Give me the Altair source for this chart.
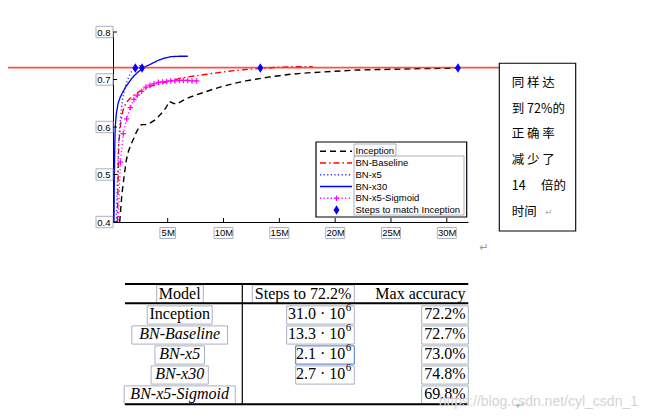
import altair as alt
import pandas as pd

# ---------------- data (steps in millions, accuracy) ----------------
series_names = ["Inception", "BN-Baseline", "BN-x5", "BN-x30", "BN-x5-Sigmoid"]
series_colors = ["#000000", "#ff0000", "#3030ff", "#0000ff", "#ff00ff"]

inception_steps = [0.70, 0.80, 0.90, 1.10, 1.29, 1.50, 1.74, 2.00, 2.19, 2.40, 2.64, 3.00, 3.40,
                   3.80, 4.13, 4.50, 4.80, 5.15, 5.50, 5.80, 6.30, 7.00, 8.00, 9.00, 10.0, 11.0,
                   12.0, 13.0, 14.0, 15.0, 16.0, 17.5, 19.0, 20.5, 22.0, 24.0, 26.0, 28.0, 31.0]
inception_acc = [0.400, 0.430, 0.459, 0.497, 0.530, 0.550, 0.565, 0.578, 0.589, 0.598, 0.605, 0.605,
                 0.608, 0.614, 0.621, 0.630, 0.639, 0.654, 0.650, 0.648, 0.655, 0.663, 0.671, 0.679,
                 0.686, 0.692, 0.697, 0.701, 0.705, 0.708, 0.711, 0.714, 0.716, 0.718, 0.720, 0.721,
                 0.722, 0.723, 0.724]

baseline_steps = [0.50, 0.55, 0.61, 0.70, 0.79, 0.99, 1.29, 1.74, 2.20, 2.80, 3.50, 4.30, 5.20,
                  6.00, 7.00, 8.50, 10.3, 12.0, 13.3, 15.0, 16.5, 18.0]
baseline_acc = [0.400, 0.480, 0.565, 0.586, 0.607, 0.635, 0.652, 0.663, 0.671, 0.679, 0.686, 0.691,
                0.697, 0.702, 0.706, 0.711, 0.717, 0.721, 0.723, 0.726, 0.727, 0.727]

x5_steps = [0.40, 0.48, 0.55, 0.62, 0.70, 0.85, 0.99, 1.15, 1.29, 1.50, 1.74, 2.04, 2.30, 2.60]
x5_acc = [0.400, 0.470, 0.530, 0.570, 0.600, 0.637, 0.663, 0.680, 0.691, 0.705, 0.716, 0.723,
          0.727, 0.730]

x30_steps = [0.19, 0.22, 0.26, 0.30, 0.40, 0.55, 0.75, 0.99, 1.20, 1.44, 1.74, 2.04, 2.35, 2.63,
             3.00, 3.53, 4.13, 4.70, 5.30, 6.00, 6.80]
x30_acc = [0.400, 0.500, 0.560, 0.600, 0.628, 0.649, 0.663, 0.674, 0.683, 0.691, 0.701, 0.709,
           0.716, 0.721, 0.727, 0.733, 0.740, 0.745, 0.748, 0.749, 0.749]

sigmoid_steps = [0.50, 0.76, 1.02, 1.32, 1.65, 1.98, 2.28, 2.67, 3.05, 3.41, 3.77, 4.16, 4.55,
                 4.91, 5.27, 5.65, 6.04, 6.40, 6.79, 7.18, 7.60]
sigmoid_acc = [0.350, 0.526, 0.586, 0.617, 0.641, 0.658, 0.667, 0.675, 0.684, 0.688, 0.691, 0.694,
               0.695, 0.696, 0.697, 0.697, 0.698, 0.698, 0.698, 0.697, 0.697]

match_steps = [2.1, 2.7, 13.3, 31.0]
match_acc = [0.724, 0.724, 0.724, 0.724]
target_acc = [0.725]

x_ticks = [5, 10, 15, 20, 25, 30]
y_ticks = [0.4, 0.5, 0.6, 0.7, 0.8]

legend_labels = series_names + ["Steps to match Inception"]

table_header = ["Model", "Steps to 72.2%", "Max accuracy"]
table_models = ["Inception", "BN-Baseline", "BN-x5", "BN-x30", "BN-x5-Sigmoid"]
table_steps = ["31.0", "13.3", "2.1", "2.7", ""]
table_max = ["72.2%", "72.7%", "73.0%", "74.8%", "69.8%"]

note_lines = ["同  样  达", "到 72%的", "正  确  率", "减  少  了", "14　 倍的", "时间"]
watermark = "https://blog.csdn.net/cyl_csdn_1"

# ---------------- frames ----------------
def frame(name, xs, ys):
    return pd.DataFrame({"series": name, "steps": xs, "acc": ys})

curves = pd.concat([
    frame("Inception", inception_steps, inception_acc),
    frame("BN-Baseline", baseline_steps, baseline_acc),
    frame("BN-x5", x5_steps, x5_acc),
    frame("BN-x30", x30_steps, x30_acc),
    frame("BN-x5-Sigmoid", sigmoid_steps, sigmoid_acc),
], ignore_index=True)
sig_df = frame("BN-x5-Sigmoid", sigmoid_steps, sigmoid_acc)
match_df = pd.DataFrame({"steps": match_steps, "acc": match_acc})
target_df = pd.DataFrame({"acc": target_acc})
xt_df = pd.DataFrame({"v": x_ticks})
yt_df = pd.DataFrame({"v": y_ticks})
legend_df = pd.DataFrame({"row": list(range(len(legend_labels))), "label": legend_labels,
                          "series": legend_labels})
table_df = pd.DataFrame({"row": list(range(len(table_models))), "model": table_models,
                         "mant": table_steps, "maxacc": table_max})
note_df = pd.DataFrame({"row": list(range(len(note_lines))), "line": note_lines})
one = pd.DataFrame({"k": [0]})

W, H = 355, 190
FONT = "Liberation Sans"
SERIF = "Liberation Serif"
BOXC = "#a9b1c3"

xsc = alt.Scale(domain=[0.1, 31.9], nice=False, zero=False)
ysc = alt.Scale(domain=[0.4, 0.8], nice=False, zero=False)
AX = alt.Axis(values=x_ticks, labelExpr="datum.value + 'M'", title=None, grid=False, ticks=False,
              tickSize=0, domainColor="black", domainWidth=1, labelFont=FONT, labelFontSize=9.5,
              labelColor="black", labelPadding=5, labelFlush=False)
AY = alt.Axis(values=y_ticks, format=".1f", title=None, grid=False, ticks=False, tickSize=0,
              domainColor="black", domainWidth=1, labelFont=FONT, labelFontSize=9.5,
              labelColor="black", labelPadding=3, labelFlush=False)

color_scale = alt.Scale(domain=series_names, range=series_colors)
dash_scale = alt.Scale(domain=series_names,
                       range=[[6, 4], [6, 3, 1.5, 3], [1.2, 2.4], [1, 0], [1.2, 2.4]])
width_scale = alt.Scale(domain=series_names, range=[1.4, 1.3, 1.2, 1.6, 1.2])

col = alt.Color("series:N", scale=color_scale, legend=None)
dash = alt.StrokeDash("series:N", scale=dash_scale, legend=None)
sw = alt.StrokeWidth("series:N", scale=width_scale, legend=None)

PLUS = "M-1,0L1,0M0,-1L0,1"
DIAMOND = "M0,-1L0.62,0L0,1L-0.62,0Z"


def box(x1, x2, y1, y2, stroke=BOXC, sw_=1, fo=0):
    return alt.Chart(one).mark_rect(stroke=stroke, strokeWidth=sw_, fill="#ffffff",
                                    fillOpacity=fo).encode(
        x=alt.value(x1), x2=alt.value(x2), y=alt.value(y1), y2=alt.value(y2))


def hline(x1, x2, y, width, color="black"):
    return alt.Chart(one).mark_rule(color=color, strokeWidth=width).encode(
        x=alt.value(x1), x2=alt.value(x2), y=alt.value(y))


# ---------------- main plot ----------------
lines = alt.Chart(curves).mark_line(clip=True).encode(
    x=alt.X("steps:Q", scale=xsc, axis=AX),
    y=alt.Y("acc:Q", scale=ysc, axis=AY),
    color=col, strokeDash=dash, strokeWidth=sw,
)

sig_marks = alt.Chart(sig_df).mark_point(shape=PLUS, filled=False, size=30, strokeWidth=1.2,
                                         color="#ff00ff", opacity=1, clip=True).encode(
    x=alt.X("steps:Q", scale=xsc, axis=AX), y=alt.Y("acc:Q", scale=ysc, axis=AY))

target = alt.Chart(target_df).mark_rule(color="#ff2020", strokeWidth=1.8, opacity=0.8).encode(
    y=alt.Y("acc:Q", scale=ysc, axis=AY), x=alt.value(-105), x2=alt.value(386))

diamonds = alt.Chart(match_df).mark_point(shape=DIAMOND, filled=True, size=90, color="#0000ff",
                                          opacity=1).encode(
    x=alt.X("steps:Q", scale=xsc, axis=AX), y=alt.Y("acc:Q", scale=ysc, axis=AY))

xticks = alt.Chart(xt_df).mark_rule(color="black").encode(
    x=alt.X("v:Q", scale=xsc, axis=AX), y=alt.value(H), y2=alt.value(H - 4))
yticks = alt.Chart(yt_df).mark_rule(color="black").encode(
    y=alt.Y("v:Q", scale=ysc, axis=AY), x=alt.value(0), x2=alt.value(4))

xbox_small = alt.Chart(xt_df).transform_filter("datum.v < 10").mark_rect(
    stroke=BOXC, strokeWidth=1, fillOpacity=0, fill="#ffffff", xOffset=-7.8, x2Offset=7.8).encode(
    x=alt.X("v:Q", scale=xsc, axis=AX), x2="v:Q", y=alt.value(H + 5.5), y2=alt.value(H + 16.5))
xbox_big = alt.Chart(xt_df).transform_filter("datum.v >= 10").mark_rect(
    stroke=BOXC, strokeWidth=1, fillOpacity=0, fill="#ffffff", xOffset=-9.5, x2Offset=9.5).encode(
    x=alt.X("v:Q", scale=xsc, axis=AX), x2="v:Q", y=alt.value(H + 5.5), y2=alt.value(H + 16.5))
ybox = alt.Chart(yt_df).mark_rect(
    stroke=BOXC, strokeWidth=1, fillOpacity=0, fill="#ffffff", yOffset=-5.7, y2Offset=5.7).encode(
    y=alt.Y("v:Q", scale=ysc, axis=AY), y2="v:Q", x=alt.value(-17), x2=alt.value(0))

main = alt.layer(xbox_small, xbox_big, ybox, lines, sig_marks, target, diamonds, xticks, yticks)

# ---------------- legend ----------------
ly = alt.Y("row:Q", scale=alt.Scale(domain=[0, 5], range=[119.3, 178.0]), axis=None)
leg_frame = box(203, 353.7, 110, 185, stroke="black", sw_=1.2, fo=1)
leg_boxes = alt.layer(box(241, 283, 112, 124), box(241, 351, 124, 183))
leg_lines = alt.Chart(legend_df).transform_filter("datum.row < 5").mark_rule().encode(
    x=alt.value(207), x2=alt.value(239), y=ly, color=col, strokeDash=dash, strokeWidth=sw)
leg_plus = alt.Chart(legend_df).transform_filter("datum.row == 4").mark_point(
    shape=PLUS, filled=False, size=30, strokeWidth=1.2, color="#ff00ff", opacity=1).encode(
    x=alt.value(223.5), y=ly)
leg_diam = alt.Chart(legend_df).transform_filter("datum.row == 5").mark_point(
    shape=DIAMOND, filled=True, size=90, color="#0000ff", opacity=1).encode(
    x=alt.value(223.5), y=ly)
leg_text = alt.Chart(legend_df).mark_text(align="left", baseline="middle", font=FONT,
                                          fontSize=9.5, color="black").encode(
    x=alt.value(242.5), y=ly, text="label:N")
legend = alt.layer(leg_frame, leg_boxes, leg_lines, leg_plus, leg_diam, leg_text)

# ---------------- side note box ----------------
ny = alt.Y("row:Q", scale=alt.Scale(domain=[0, 5], range=[50.7, 179.7]), axis=None)
note_frame = box(386.3, 462.7, 31.3, 199, stroke="black", sw_=1.1, fo=1)
note_text = alt.Chart(note_df).mark_text(align="left", baseline="middle",
                                         font="Noto Sans CJK SC", fontSize=12.5,
                                         color="black").encode(
    x=alt.value(398.7), y=ny, text="line:N")
note_ret = alt.Chart(one).mark_text(text="↵", font="DejaVu Sans", fontSize=9, color="#aaaaaa",
                                    align="left", baseline="middle").encode(
    x=alt.value(432), y=alt.value(180))
note = alt.layer(note_frame, note_text, note_ret)

# ---------------- table ----------------
ty = alt.Y("row:Q", scale=alt.Scale(domain=[0, 4], range=[281.5, 361.5]), axis=None)
ty2 = alt.Y2("row:Q")
tstyle = dict(baseline="middle", font=SERIF, fontSize=16, color="black")
t_lines = alt.layer(
    hline(12, 355.3, 252, 2.2),
    hline(12, 355.3, 271.3, 2.0),
    hline(12, 355.3, 372.3, 2.0),
    alt.Chart(one).mark_rule(color="black", strokeWidth=1.2).encode(
        x=alt.value(129.3), y=alt.value(252), y2=alt.value(372.3)),
)
t_head_boxes = alt.layer(box(43.7, 90.3, 253, 271.3), box(139.3, 241.3, 253, 271.3))
t_head = alt.layer(
    alt.Chart(one).mark_text(text=table_header[0], align="center", **tstyle).encode(
        x=alt.value(66.7), y=alt.value(261.5)),
    alt.Chart(one).mark_text(text=table_header[1], align="center", **tstyle).encode(
        x=alt.value(190), y=alt.value(261.5)),
    alt.Chart(one).mark_text(text=table_header[2], align="right", **tstyle).encode(
        x=alt.value(352.5), y=alt.value(261.5)),
)
cellbox = dict(strokeWidth=1, fill="#ffffff", fillOpacity=0, yOffset=-7.6, y2Offset=10.6)
# cell outlines sized from the text length
t_model_box = alt.Chart(table_df).transform_calculate(
    half="datum.row == 0 ? 3.0 * length(datum.model) + 5.5 : 3.85 * length(datum.model) + 5.5",
    x1="66.7 - datum.half", x2="66.7 + datum.half",
).mark_rect(stroke=BOXC, **cellbox).encode(
    x=alt.X("x1:Q", scale=None), x2="x2:Q", y=ty, y2=ty2)
t_steps_box = alt.Chart(table_df).transform_filter("datum.mant != ''").transform_calculate(
    x1="241.3 - (9 * length(datum.mant) + 31.6)", x2="241.3",
).mark_rect(**cellbox).encode(
    x=alt.X("x1:Q", scale=None), x2="x2:Q", y=ty, y2=ty2,
    stroke=alt.condition("datum.row == 2", alt.value("#4a78c8"), alt.value(BOXC)))
t_max_box = alt.Chart(table_df).mark_rect(stroke=BOXC, **cellbox).encode(
    x=alt.value(308.7), x2=alt.value(355.3), y=ty, y2=ty2)

t_model_up = alt.Chart(table_df).transform_filter("datum.row == 0").mark_text(
    align="center", **tstyle).encode(x=alt.value(66.7), y=ty, text="model:N")
t_model_it = alt.Chart(table_df).transform_filter("datum.row > 0").mark_text(
    align="center", fontStyle="italic", **tstyle).encode(x=alt.value(66.7), y=ty, text="model:N")
t_steps = alt.Chart(table_df).transform_filter("datum.mant != ''").transform_calculate(
    txt="datum.mant + ' · 10'").mark_text(align="right", **tstyle).encode(
    x=alt.value(232.3), y=ty, text="txt:N")
t_exp = alt.Chart(table_df).transform_filter("datum.mant != ''").transform_calculate(
    e="'6'").mark_text(align="left", baseline="middle", font=SERIF, fontSize=11, color="black",
                       dy=-6).encode(x=alt.value(232.8), y=ty, text="e:N")
t_max = alt.Chart(table_df).mark_text(align="right", **tstyle).encode(
    x=alt.value(352.5), y=ty, text="maxacc:N")
table = alt.layer(t_head_boxes, t_model_box, t_steps_box, t_max_box, t_lines, t_head,
                  t_model_up, t_model_it, t_steps, t_exp, t_max)

# ---------------- page marks ----------------
extras = alt.layer(
    alt.Chart(one).mark_text(text="↵", font="DejaVu Sans", fontSize=11, color="#999999",
                             align="center", baseline="middle").encode(
        x=alt.value(371), y=alt.value(216)),
    alt.Chart(one).mark_text(text="↵", font="DejaVu Sans", fontSize=10, color="#999999",
                             align="center", baseline="middle").encode(
        x=alt.value(407), y=alt.value(374)),
    alt.Chart(one).mark_text(text=watermark, font=FONT, fontSize=14, color="#d4d4d4",
                             align="right", baseline="middle").encode(
        x=alt.value(525), y=alt.value(369.5)),
)

chart = alt.layer(main, legend, note, table, extras).resolve_scale(
    x="independent", y="independent"
).properties(
    width=W, height=H,
    autosize=alt.AutoSizeParams(type="none"),
    padding={"left": 105, "top": 24, "right": 172, "bottom": 189},
    background="white",
).configure_view(stroke=None)

chart.save("out.html", embed_options={"renderer": "svg", "actions": False})
